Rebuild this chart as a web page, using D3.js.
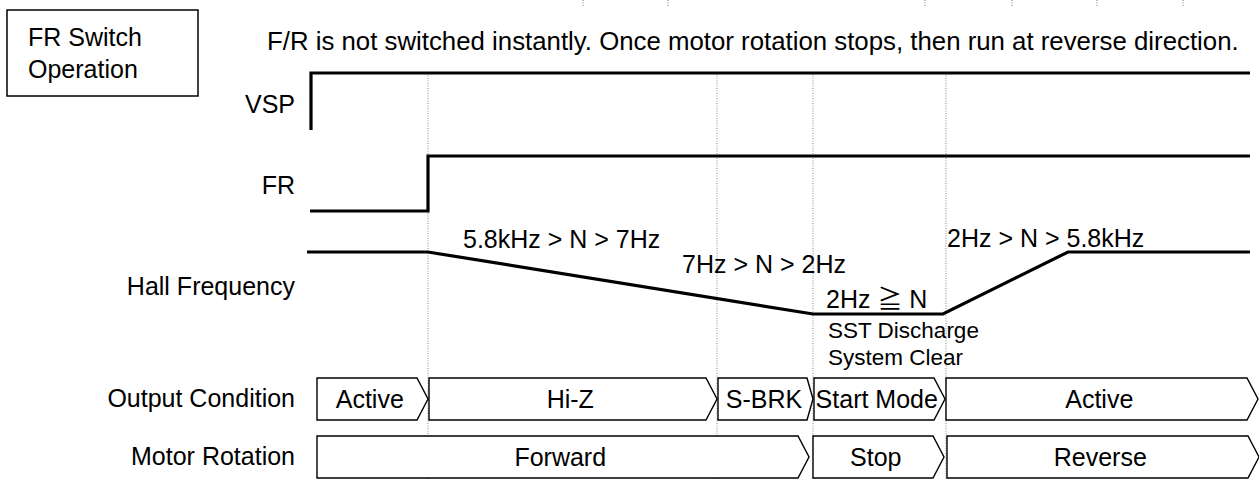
<!DOCTYPE html>
<html lang="en">
<head>
  <meta charset="UTF-8" />
  <title>FR Switch Operation</title>
  <script src="https://d3js.org/d3.v7.min.js"></script>
  <style>
    html, body {
      margin: 0;
      padding: 0;
      background: #fff;
    }
    svg text {
      font-family: "Liberation Sans", Arial, "Noto Sans CJK JP", sans-serif;
      fill: #000;
    }
  </style>
</head>
<body>
  <svg id="chart" width="1259" height="495"></svg>

  <script>
    // ---------------------------------------------------------
    // Data (time in arbitrary units, 0 = left edge of the signals)
    // ---------------------------------------------------------
    const eventTimes = [118, 407, 503, 636];          // dotted guide lines
    const vspTimes = [0, 940];
    const frPoints = [[0, 0], [118, 0], [118, 1], [940, 1]];
    const hallPoints = [[-3, 1], [118, 1], [503, 0], [633, 0], [758, 1], [940, 1]];

    const hallLabels = [
      { text: "5.8kHz > N > 7Hz", t: 153, dy: -4 },
      { text: "7Hz > N > 2Hz", t: 372, dy: 21 },
      { text: "2Hz \u2267 N", t: 516, dy: 56 },
      { text: "2Hz > N > 5.8kHz", t: 637, dy: -5 }
    ];
    const hallNotes = ["SST Discharge", "System Clear"];

    const outputSegments = [
      { label: "Active", t0: 7, t1: 118 },
      { label: "Hi-Z", t0: 119, t1: 407 },
      { label: "S-BRK", t0: 408, t1: 503 },
      { label: "Start Mode", t0: 504, t1: 635 },
      { label: "Active", t0: 636, t1: 948 }
    ];
    const motorSegments = [
      { label: "Forward", t0: 7, t1: 499 },
      { label: "Stop", t0: 503, t1: 634 },
      { label: "Reverse", t0: 637, t1: 949 }
    ];

    const rowLabels = ["VSP", "FR", "Hall Frequency", "Output Condition", "Motor Rotation"];
    const topMarks = [273, 358, 615, 702, 787, 873];   // stray guide stubs at top edge

    // ---------------------------------------------------------
    // Layout
    // ---------------------------------------------------------
    const svg = d3.select("#chart");
    const x = d3.scaleLinear().domain([0, 940]).range([310, 1250]);

    const vspY = d3.scaleLinear().domain([0, 1]).range([130, 73]);
    const frY = d3.scaleLinear().domain([0, 1]).range([211, 156]);
    const hallY = d3.scaleLinear().domain([0, 1]).range([314, 252]);

    const rowBaselines = [113, 194, 295, 407, 465];
    const outRow = { top: 378, bottom: 420 };
    const motorRow = { top: 436, bottom: 478 };

    // title box
    svg.append("rect")
      .attr("x", 7).attr("y", 10)
      .attr("width", 191).attr("height", 86)
      .attr("fill", "none").attr("stroke", "#000").attr("stroke-width", 1.5);
    svg.append("text").attr("x", 28).attr("y", 46).attr("font-size", 25).text("FR Switch");
    svg.append("text").attr("x", 28).attr("y", 78).attr("font-size", 25).text("Operation");

    svg.append("text")
      .attr("x", 267).attr("y", 50).attr("font-size", 25.8)
      .text("F/R is not switched instantly. Once motor rotation stops, then run at reverse direction.");

    // stray stubs at top edge
    svg.selectAll(".stub").data(topMarks).join("line")
      .attr("x1", d => x(d)).attr("x2", d => x(d))
      .attr("y1", 0).attr("y2", 7)
      .attr("stroke", "#777").attr("stroke-width", 1)
      .attr("stroke-dasharray", "1,1.5");

    // dotted guides
    svg.selectAll(".guide").data(eventTimes).join("line")
      .attr("x1", d => x(d)).attr("x2", d => x(d))
      .attr("y1", 73).attr("y2", 479)
      .attr("stroke", "#888").attr("stroke-width", 1)
      .attr("stroke-dasharray", "1,1.5");

    // row labels
    svg.selectAll(".rowLabel").data(rowLabels).join("text")
      .attr("x", 295).attr("y", (d, i) => rowBaselines[i])
      .attr("text-anchor", "end").attr("font-size", 25)
      .text(d => d);

    // VSP
    svg.append("path")
      .attr("d", d3.line()([[x(vspTimes[0]) + 1, vspY(0)], [x(vspTimes[0]) + 1, vspY(1)], [x(vspTimes[1]), vspY(1)]]))
      .attr("fill", "none").attr("stroke", "#000").attr("stroke-width", 3.2);

    // FR
    svg.append("path")
      .attr("d", d3.line().x(d => x(d[0])).y(d => frY(d[1]))(frPoints))
      .attr("fill", "none").attr("stroke", "#000").attr("stroke-width", 3.2);

    // Hall frequency
    svg.append("path")
      .attr("d", d3.line().x(d => x(d[0])).y(d => hallY(d[1]))(hallPoints))
      .attr("fill", "none").attr("stroke", "#000").attr("stroke-width", 3.2);

    svg.selectAll(".hallLabel").data(hallLabels).join("text")
      .attr("x", d => x(d.t))
      .attr("y", d => hallY(1) + d.dy)
      .attr("font-size", 25)
      .text(d => d.text);

    svg.selectAll(".hallNote").data(hallNotes).join("text")
      .attr("x", x(518)).attr("y", (d, i) => 338 + i * 27)
      .attr("font-size", 22.5)
      .text(d => d);

    // arrow-shaped state boxes
    function drawSegments(segs, row) {
      const mid = (row.top + row.bottom) / 2;
      const g = svg.append("g");
      segs.forEach(s => {
        const x0 = x(s.t0), x1 = x(s.t1);
        const depth = (x1 - x0) < 100 ? 6 : 11;
        g.append("path")
          .attr("d", d3.line()([[x0, row.top], [x1 - depth, row.top], [x1, mid], [x1 - depth, row.bottom], [x0, row.bottom]]) + "Z")
          .attr("fill", "#fff").attr("stroke", "#000").attr("stroke-width", 1.4);
        g.append("text")
          .attr("x", (x0 + x1 - depth / 2) / 2).attr("y", mid + 9)
          .attr("text-anchor", "middle").attr("font-size", 25)
          .text(s.label);
      });
    }
    drawSegments(outputSegments, outRow);
    drawSegments(motorSegments, motorRow);
  </script>
</body>
</html>
